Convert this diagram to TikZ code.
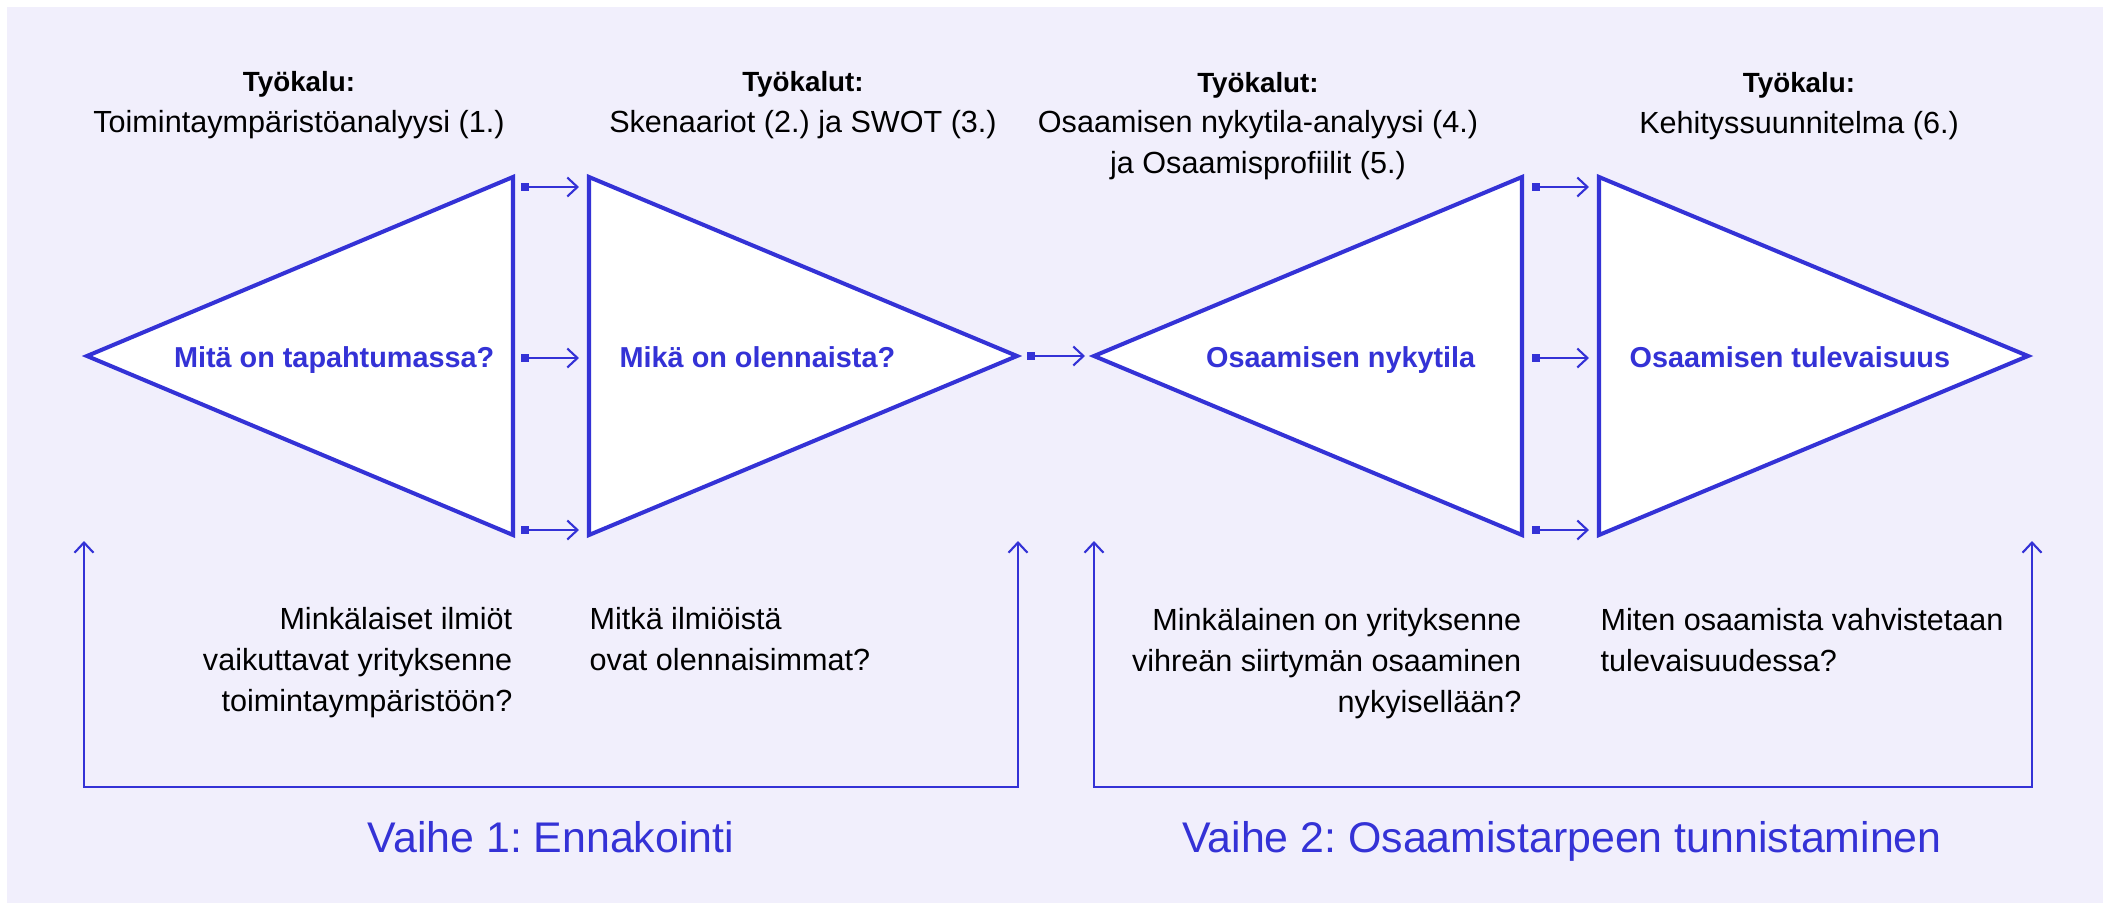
\documentclass[tikz,border=0pt]{standalone}
\usepackage{fontspec}
\setmainfont{Liberation Sans}
\usetikzlibrary{arrows.meta}
\frenchspacing

\definecolor{vblue}{RGB}{52,50,214}
\definecolor{vbg}{RGB}{241,239,252}

\begin{document}
\begin{tikzpicture}[y=-1cm,
  tri/.style={draw=vblue, line width=1.15pt, fill=white},
  flow/.style={vblue, line width=0.6pt, {Square[length=2.3pt,width=2.3pt]}-{Straight Barb[length=2.9pt,width=5.4pt]}},
  feedback/.style={vblue, line width=0.6pt, {Straight Barb[length=2.9pt,width=5.4pt]}-{Straight Barb[length=2.9pt,width=5.4pt]}},
  tool/.style={align=center, inner sep=0pt, anchor=base, font=\fontsize{8.7}{11.5}\selectfont},
  quest/.style={inner sep=0pt, font=\fontsize{8.7}{11.65}\selectfont},
  tricap/.style={inner sep=0pt, text=vblue, font=\bfseries\fontsize{8.2}{10}\selectfont},
  phase/.style={inner sep=0pt, anchor=base, text=vblue, font=\fontsize{12.2}{14}\selectfont}]

\useasboundingbox (0,0) rectangle (21.09,9.09);
\fill[white] (0,0) rectangle (21.09,9.09);
\fill[vbg] (0.07,0.07) rectangle (21.03,9.03);

% the four triangles
\draw[tri] (0.87,3.56) -- (5.13,1.77) -- (5.13,5.35) -- cycle;
\draw[tri] (5.89,1.77) -- (10.17,3.56) -- (5.89,5.35) -- cycle;
\draw[tri] (10.94,3.56) -- (15.22,1.77) -- (15.22,5.35) -- cycle;
\draw[tri] (15.99,1.77) -- (20.28,3.56) -- (15.99,5.35) -- cycle;

% arrows between the triangles
\foreach \y [count=\i] in {1.87,3.58,5.30}{
  \coordinate (a\i) at (5.21,\y);
  \coordinate (b\i) at (5.79,\y);
  \coordinate (c\i) at (15.32,\y);
  \coordinate (d\i) at (15.89,\y);
  \draw[flow] (a\i) -- (b\i);
  \draw[flow] (c\i) -- (d\i);
}
\coordinate (mid1) at (10.27,3.56);
\coordinate (mid2) at (10.85,3.56);
\draw[flow] (mid1) -- (mid2);

% feedback brackets
\coordinate (f1a) at (0.84,5.41);
\coordinate (f1b) at (0.84,7.87);
\coordinate (f1c) at (10.18,7.87);
\coordinate (f1d) at (10.18,5.41);
\draw[feedback] (f1a) -- (f1b) -- (f1c) -- (f1d);
\coordinate (f2a) at (10.94,5.41);
\coordinate (f2b) at (10.94,7.87);
\coordinate (f2c) at (20.32,7.87);
\coordinate (f2d) at (20.32,5.41);
\draw[feedback] (f2a) -- (f2b) -- (f2c) -- (f2d);

% tools (anchored at the last baseline)
\node[tool] (tool1) at (2.99,1.32) {{\bfseries\fontsize{7.9}{11.5}\selectfont Työkalu:}\\Toimintaympäristöanalyysi (1.)};
\node[tool] (tool2) at (8.03,1.32) {{\bfseries\fontsize{7.9}{11.5}\selectfont Työkalut:}\\Skenaariot (2.) ja SWOT (3.)};
\node[tool] (tool3) at (12.58,1.73) {{\bfseries\fontsize{7.9}{11.5}\selectfont Työkalut:}\\Osaamisen nykytila-analyysi (4.)\\ja Osaamisprofiilit (5.)};
\node[tool] (tool4) at (17.99,1.33) {{\bfseries\fontsize{7.9}{11.5}\selectfont Työkalu:}\\Kehityssuunnitelma (6.)};

% triangle captions
\node[tricap, anchor=base east] (cap1) at (4.95,3.67) {Mitä on tapahtumassa?};
\node[tricap, anchor=base west] (cap2) at (6.19,3.67) {Mikä on olennaista?};
\node[tricap, anchor=base east] (cap3) at (14.76,3.67) {Osaamisen nykytila};
\node[tricap, anchor=base west] (cap4) at (16.29,3.67) {Osaamisen tulevaisuus};

% questions (anchored at the last baseline)
\node[quest, align=right, anchor=base east] (ask1) at (5.13,7.11) {Minkälaiset ilmiöt\\vaikuttavat yrityksenne\\toimintaympäristöön?};
\node[quest, align=left, anchor=base west] (ask2) at (5.89,6.70) {Mitkä ilmiöistä\\ovat olennaisimmat?};
\node[quest, align=right, anchor=base east] (ask3) at (15.22,7.12) {Minkälainen on yrityksenne\\vihreän siirtymän osaaminen\\nykyisellään?};
\node[quest, align=left, anchor=base west] (ask4) at (16.00,6.71) {Miten osaamista vahvistetaan\\tulevaisuudessa?};

% phases
\node[phase] (ph1) at (5.51,8.52) {Vaihe 1: Ennakointi};
\node[phase] (ph2) at (15.62,8.52) {Vaihe 2: Osaamistarpeen tunnistaminen};

\end{tikzpicture}
\end{document}
